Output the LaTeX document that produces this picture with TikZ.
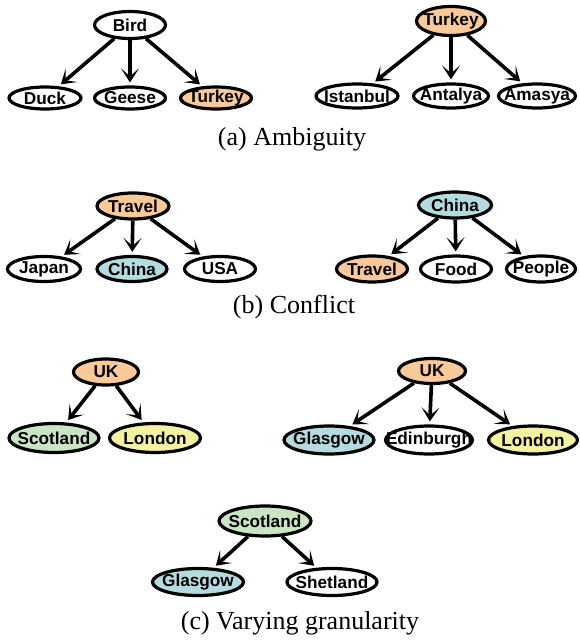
\documentclass[tikz,border=0pt]{standalone}
\usepackage{fontspec}
\setmainfont{Liberation Serif}
\newfontfamily\tagfont{Liberation Sans}[BoldFont={* Bold}]
\usetikzlibrary{shapes.geometric,arrows.meta}

\definecolor{tagorange}{RGB}{249,201,154}
\definecolor{tagblue}{RGB}{180,220,224}
\definecolor{taggreen}{RGB}{201,229,196}
\definecolor{tagyellow}{RGB}{244,242,160}

\begin{document}
\begin{tikzpicture}[x=0.5pt, y=-0.5pt,
    tnode/.style 2 args={ellipse, draw, line width=1.6pt,
        inner xsep=-30pt, inner ysep=-8pt,
        minimum width=#1, minimum height=#2,
        font=\tagfont\fontsize{8.6}{9}\selectfont\bfseries},
    edge/.style={line width=1.8pt, shorten >=1.5pt,
        -{Stealth[length=7pt, width=9pt, inset=4pt]}},
    caption/.style={font=\fontsize{13}{15}\selectfont}]
    \useasboundingbox (0,0) rectangle (579,642);

    % (a) Bird tree
    \node[tnode={35.5pt}{13.5pt}] (bird) at (130,25) {Bird};
    \node[tnode={36pt}{11pt}] (duck) at (45,98) {Duck};
    \node[tnode={35.5pt}{11pt}] (geese) at (130,98) {Geese};
    \node[tnode={35.5pt}{11pt}, fill=tagorange] (turkeyA) at (216,98) {Turkey};
    \draw[edge] (bird) -- (duck);
    \draw[edge] (bird) -- (geese);
    \draw[edge] (bird) -- (turkeyA);

    % (a) Turkey tree
    \node[tnode={34.5pt}{14.5pt}, fill=tagorange] (turkeyB) at (451,21) {Turkey};
    \node[tnode={41pt}{12pt}] (istanbul) at (357,96) {Istanbul};
    \node[tnode={37.5pt}{12pt}] (antalya) at (451,96) {Antalya};
    \node[tnode={38.5pt}{12pt}] (amasya) at (537,96) {Amasya};
    \draw[edge] (turkeyB) -- (istanbul);
    \draw[edge] (turkeyB) -- (antalya);
    \draw[edge] (turkeyB) -- (amasya);

    \node[caption] (capA) at (292,139) {(a) Ambiguity};

    % (b) Travel tree
    \node[tnode={36pt}{13pt}, fill=tagorange] (travelA) at (133,206) {Travel};
    \node[tnode={36.5pt}{12.5pt}] (japan) at (44,269) {Japan};
    \node[tnode={35pt}{12.5pt}, fill=tagblue] (chinaA) at (132,269) {China};
    \node[tnode={35.5pt}{12.5pt}] (usa) at (220,269) {USA};
    \draw[edge] (travelA) -- (japan);
    \draw[edge] (travelA) -- (chinaA);
    \draw[edge] (travelA) -- (usa);

    % (b) China tree
    \node[tnode={36.5pt}{13pt}, fill=tagblue] (chinaB) at (455,205) {China};
    \node[tnode={35.5pt}{13pt}, fill=tagorange] (travelB) at (372,269) {Travel};
    \node[tnode={35.5pt}{13pt}] (food) at (456,269) {Food};
    \node[tnode={34.5pt}{13pt}] (people) at (541,269) {People};
    \draw[edge] (chinaB) -- (travelB);
    \draw[edge] (chinaB) -- (food);
    \draw[edge] (chinaB) -- (people);

    \node[caption] (capB) at (294,307) {(b) Conflict};

    % (c) UK tree, coarse
    \node[tnode={32.5pt}{13pt}, fill=tagorange] (ukA) at (106,372) {UK};
    \node[tnode={45pt}{14.5pt}, fill=taggreen] (scotlandA) at (54,438) {Scotland};
    \node[tnode={45.5pt}{14.5pt}, fill=tagyellow] (londonA) at (155,438) {London};
    \draw[edge] (ukA) -- (scotlandA);
    \draw[edge] (ukA) -- (londonA);

    % (c) UK tree, fine
    \node[tnode={33.5pt}{12.5pt}, fill=tagorange] (ukB) at (432,371) {UK};
    \node[tnode={45pt}{14pt}, fill=tagblue] (glasgowA) at (329,440) {Glasgow};
    \node[tnode={43.5pt}{14pt}] (edinburgh) at (429,440) {Edinburgh};
    \node[tnode={44.5pt}{14pt}, fill=tagyellow] (londonB) at (533,440) {London};
    \draw[edge] (ukB) -- (glasgowA);
    \draw[edge] (ukB) -- (edinburgh);
    \draw[edge] (ukB) -- (londonB);

    % (c) Scotland tree
    \node[tnode={46pt}{15pt}, fill=taggreen] (scotlandB) at (265,521) {Scotland};
    \node[tnode={45.5pt}{13.5pt}, fill=tagblue] (glasgowB) at (198,582) {Glasgow};
    \node[tnode={45pt}{13.5pt}] (shetland) at (332,582) {Shetland};
    \draw[edge] (scotlandB) -- (glasgowB);
    \draw[edge] (scotlandB) -- (shetland);

    \node[caption] (capC) at (300,623) {(c) Varying granularity};
\end{tikzpicture}
\end{document}
